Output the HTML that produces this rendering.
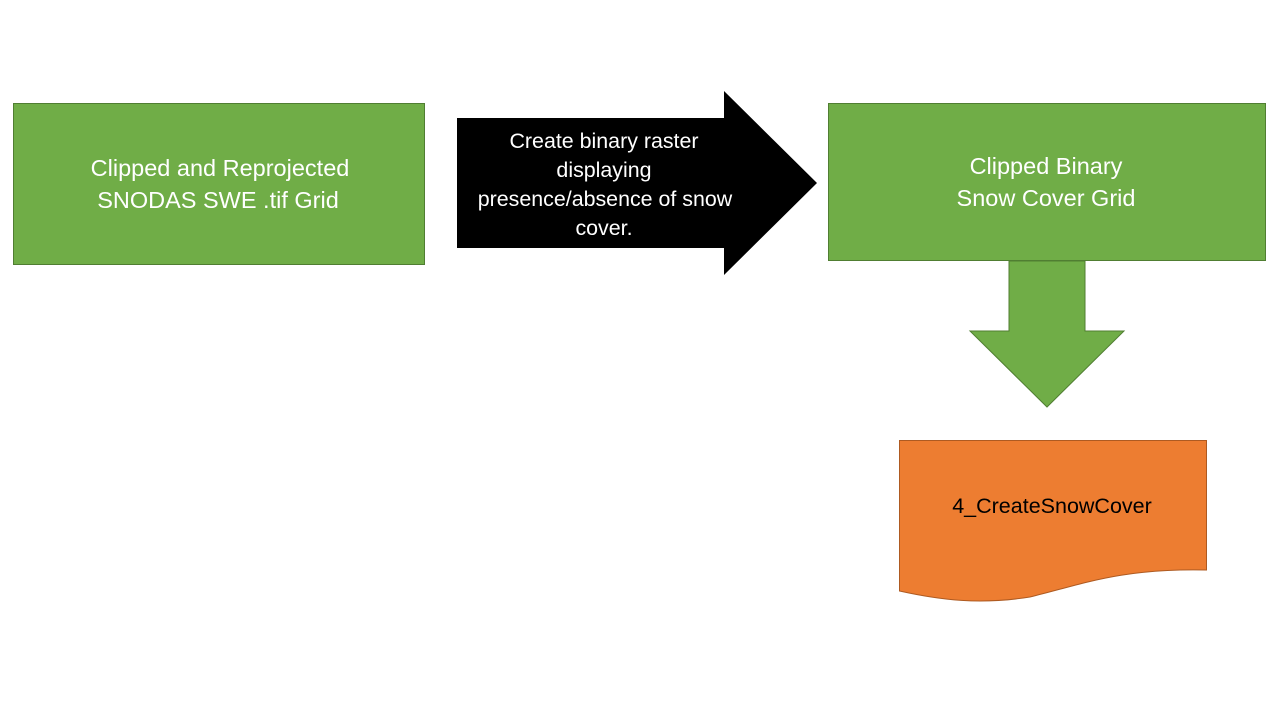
<!DOCTYPE html>
<html><head><meta charset="utf-8"><style>html,body{margin:0;padding:0;background:#fff}svg{display:block}</style></head>
<body>
<svg width="1280" height="720" viewBox="0 0 1280 720" xmlns="http://www.w3.org/2000/svg" font-family="'Liberation Sans', sans-serif">
<rect x="13.5" y="103.5" width="411" height="161" fill="#70AD47" stroke="#507E32" stroke-width="1"/>
<text fill="#fff" font-size="23.5" text-anchor="middle"><tspan x="220" y="176">Clipped and Reprojected</tspan><tspan x="218" y="208">SNODAS SWE .tif Grid</tspan></text>
<polygon points="457,118 724,118 724,91 817,183 724,275 724,248 457,248" fill="#000"/>
<text fill="#fff" font-size="21.4" text-anchor="middle"><tspan x="604" y="148">Create binary raster</tspan><tspan x="604" y="177">displaying</tspan><tspan x="605" y="206">presence/absence of snow</tspan><tspan x="604" y="235">cover.</tspan></text>
<rect x="828.5" y="103.5" width="437" height="157" fill="#70AD47" stroke="#507E32" stroke-width="1"/>
<text fill="#fff" font-size="23.5" text-anchor="middle"><tspan x="1046" y="174">Clipped Binary</tspan><tspan x="1046" y="206">Snow Cover Grid</tspan></text>
<polygon points="1009,261 1085,261 1085,331 1124,331 1047,407 970,331 1009,331" fill="#70AD47" stroke="#507E32" stroke-width="1"/>
<path d="M899.5,440.5 H1206.5 V570 C1120,568 1080,585 1030,597 C980,605 940,600 899.5,591 Z" fill="#ED7D31" stroke="#AE5A21" stroke-width="1"/>
<text fill="#000" font-size="21.5" text-anchor="middle" x="1052" y="513">4_CreateSnowCover</text>
</svg>
</body></html>
